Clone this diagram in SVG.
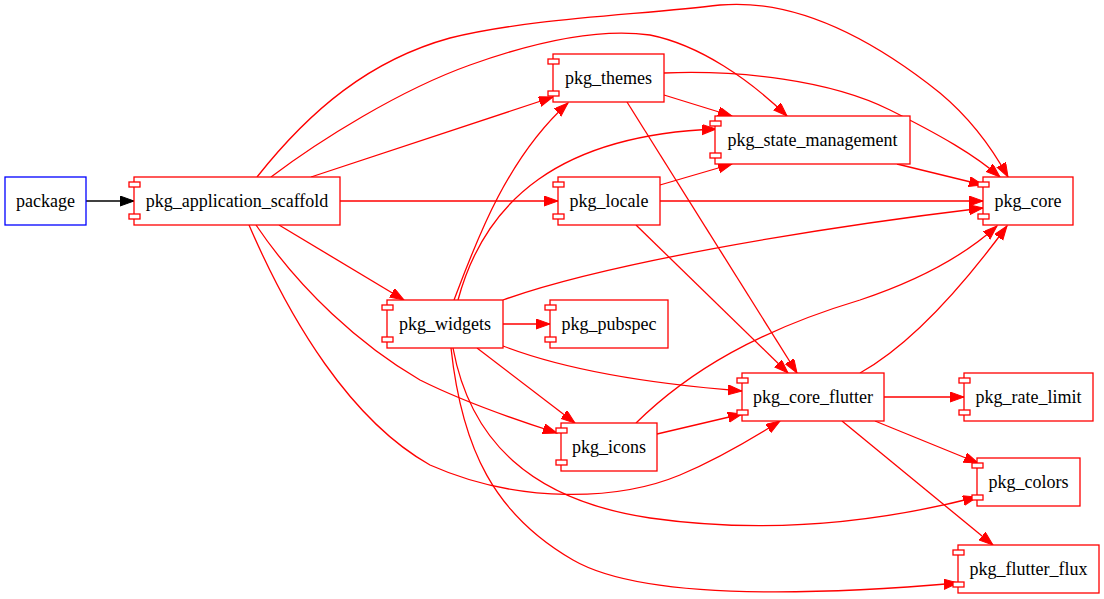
<svg xmlns="http://www.w3.org/2000/svg" width="1104" height="599" viewBox="0 0 1104 599" font-family="Liberation Serif, Times New Roman, Times, serif">
<style>
.n rect{fill:#ffffff;stroke:#ff0000;stroke-width:1.3}
.p rect{fill:#ffffff;stroke:#0000ff;stroke-width:1.3}
text{font-size:18px;text-anchor:middle;fill:#000000}
.e path{fill:none;stroke:#ff0000;stroke-width:1.3;marker-end:url(#ar)}
.e path.k{stroke:#000000;marker-end:url(#ak)}
</style>
<defs>
<marker id="ar" markerUnits="userSpaceOnUse" markerWidth="15" markerHeight="11" refX="14" refY="5" orient="auto"><path d="M0,0 L14,5 L0,10 z" fill="#ff0000" stroke="#ff0000" stroke-width="1"/></marker>
<marker id="ak" markerUnits="userSpaceOnUse" markerWidth="15" markerHeight="11" refX="14" refY="5" orient="auto"><path d="M0,0 L14,5 L0,10 z" fill="#000000" stroke="#000000" stroke-width="1"/></marker>
</defs>
<rect width="1104" height="599" fill="#ffffff"/>
<g id="edges" class="e">
<path class="k" d="M86,201 L134,201"/>
<path d="M257,177 C310,110 370,60 450,38 C530,18 640,15 720,5 C800,-2 880,45 940,93 C970,118 992,148 1008,177"/>
<path d="M271,177 C320,140 400,90 470,65 C540,40 600,28 650,35 C700,45 750,80 787,116"/>
<path d="M311,177 L553,97"/>
<path d="M340,201 L558,201"/>
<path d="M279,225 L404,300"/>
<path d="M256,225 C300,290 360,345 420,380 C460,400 510,418 557,433"/>
<path d="M249,225 C290,320 350,420 430,465 C520,505 620,500 680,475 C720,458 750,440 780,421"/>
<path d="M664,95 L732,116"/>
<path d="M664,73 C740,70 830,80 890,110 C940,135 975,155 1000,177"/>
<path d="M627,102 L797,373"/>
<path d="M897,164 L983,185"/>
<path d="M660,185 L732,164"/>
<path d="M660,201 L983,201"/>
<path d="M636,225 L788,373"/>
<path d="M454,300 C475,245 505,160 568,103"/>
<path d="M458,300 C485,200 560,135 716,129"/>
<path d="M503,300 C600,265 800,230 983,208"/>
<path d="M503,324 L550,324"/>
<path d="M477,348 L575,423"/>
<path d="M503,346 C560,368 640,383 742,391"/>
<path d="M453,348 C470,440 530,500 650,518 C770,535 880,522 977,497"/>
<path d="M451,348 C462,450 495,515 573,560 C630,593 760,600 958,583"/>
<path d="M636,423 C690,370 760,330 860,300 C920,280 965,255 997,226"/>
<path d="M657,434 L742,414"/>
<path d="M860,373 C910,345 960,290 1007,226"/>
<path d="M884,397 L964,397"/>
<path d="M875,421 L978,463"/>
<path d="M842,421 L993,545"/>
</g>
<g id="package" class="p"><rect x="5" y="177" width="81" height="48"/><text x="45.5" y="207">package</text></g>
<g id="pkg_application_scaffold" class="n"><rect x="134" y="177" width="206" height="48"/><rect x="129" y="182" width="11" height="5"/><rect x="129" y="214" width="11" height="5"/><text x="237" y="207">pkg_application_scaffold</text></g>
<g id="pkg_themes" class="n"><rect x="553" y="54" width="111" height="48"/><rect x="548" y="59" width="11" height="5"/><rect x="548" y="91" width="11" height="5"/><text x="608.5" y="84">pkg_themes</text></g>
<g id="pkg_state_management" class="n"><rect x="715" y="116" width="195" height="48"/><rect x="710" y="121" width="11" height="5"/><rect x="710" y="153" width="11" height="5"/><text x="812.5" y="146">pkg_state_management</text></g>
<g id="pkg_locale" class="n"><rect x="558" y="177" width="102" height="48"/><rect x="553" y="182" width="11" height="5"/><rect x="553" y="214" width="11" height="5"/><text x="609" y="207">pkg_locale</text></g>
<g id="pkg_widgets" class="n"><rect x="387" y="300" width="116" height="48"/><rect x="382" y="305" width="11" height="5"/><rect x="382" y="337" width="11" height="5"/><text x="445" y="330">pkg_widgets</text></g>
<g id="pkg_pubspec" class="n"><rect x="550" y="300" width="118" height="48"/><rect x="545" y="305" width="11" height="5"/><rect x="545" y="337" width="11" height="5"/><text x="609" y="330">pkg_pubspec</text></g>
<g id="pkg_icons" class="n"><rect x="561" y="423" width="96" height="48"/><rect x="556" y="428" width="11" height="5"/><rect x="556" y="460" width="11" height="5"/><text x="609" y="453">pkg_icons</text></g>
<g id="pkg_core" class="n"><rect x="983" y="177" width="90" height="48"/><rect x="978" y="182" width="11" height="5"/><rect x="978" y="214" width="11" height="5"/><text x="1028" y="207">pkg_core</text></g>
<g id="pkg_core_flutter" class="n"><rect x="742" y="373" width="142" height="48"/><rect x="737" y="378" width="11" height="5"/><rect x="737" y="410" width="11" height="5"/><text x="813" y="403">pkg_core_flutter</text></g>
<g id="pkg_rate_limit" class="n"><rect x="964" y="373" width="129" height="48"/><rect x="959" y="378" width="11" height="5"/><rect x="959" y="410" width="11" height="5"/><text x="1028.5" y="403">pkg_rate_limit</text></g>
<g id="pkg_colors" class="n"><rect x="977" y="458" width="103" height="48"/><rect x="972" y="463" width="11" height="5"/><rect x="972" y="495" width="11" height="5"/><text x="1028.5" y="488">pkg_colors</text></g>
<g id="pkg_flutter_flux" class="n"><rect x="958" y="545" width="141" height="48"/><rect x="953" y="550" width="11" height="5"/><rect x="953" y="582" width="11" height="5"/><text x="1028.5" y="575">pkg_flutter_flux</text></g>
</svg>
